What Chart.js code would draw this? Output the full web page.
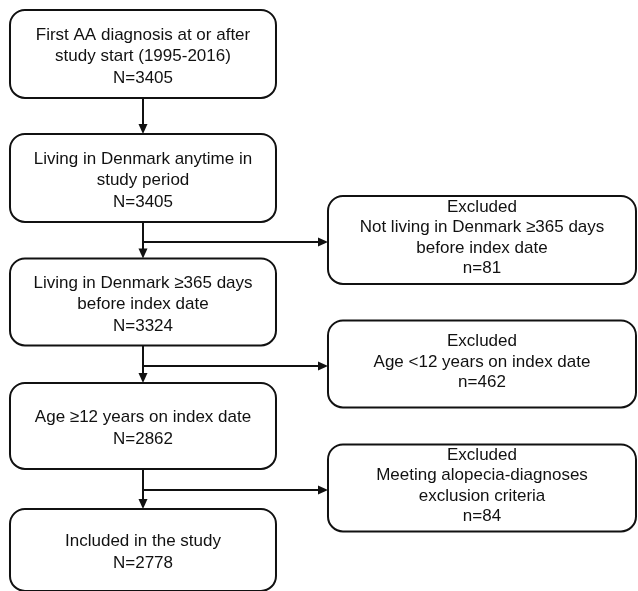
<!DOCTYPE html>
<html>
<head>
<meta charset="utf-8">
<script src="https://cdn.jsdelivr.net/npm/chart.js@4.4.1/dist/chart.umd.min.js"></script>
<style>
  html, body { margin: 0; padding: 0; background: #fff; }
  #wrap { width: 638px; height: 591px; position: relative; }
</style>
</head>
<body>
<div id="wrap"><canvas id="flow"></canvas></div>
<script>
// main cohort steps (top to bottom)
const mainSteps = [
  ['First AA diagnosis at or after', 'study start (1995-2016)'],
  ['Living in Denmark anytime in', 'study period'],
  ['Living in Denmark \u2265365 days', 'before index date'],
  ['Age \u226512 years on index date'],
  ['Included in the study']
];
const mainCounts = [3405, 3405, 3324, 2862, 2778];

// exclusions, each one sits between step k and step k+1
const excludedSteps = [
  ['Not living in Denmark \u2265365 days', 'before index date'],
  ['Age <12 years on index date'],
  ['Meeting alopecia-diagnoses', 'exclusion criteria']
];
const excludedCounts = [81, 462, 84];
const excludedAfter = [1, 2, 3];

const FONT = '17px "Liberation Sans", Arial, sans-serif';
const INK = '#111';

function roundBox(ctx, cx, cy, w, h, r) {
  const x = cx - w / 2, y = cy - h / 2;
  ctx.beginPath();
  ctx.moveTo(x + r, y);
  ctx.lineTo(x + w - r, y);
  ctx.arcTo(x + w, y, x + w, y + r, r);
  ctx.lineTo(x + w, y + h - r);
  ctx.arcTo(x + w, y + h, x + w - r, y + h, r);
  ctx.lineTo(x + r, y + h);
  ctx.arcTo(x, y + h, x, y + h - r, r);
  ctx.lineTo(x, y + r);
  ctx.arcTo(x, y, x + r, y, r);
  ctx.closePath();
  ctx.fillStyle = '#fff';
  ctx.fill();
  ctx.lineWidth = 2;
  ctx.strokeStyle = INK;
  ctx.stroke();
}

function textLines(ctx, lines, cx, cy, lh) {
  ctx.fillStyle = '#111';
  ctx.font = FONT;
  ctx.textAlign = 'center';
  ctx.textBaseline = 'middle';
  const top = cy - (lines.length - 1) * lh / 2;
  lines.forEach((l, i) => ctx.fillText(l, cx, top + i * lh));
}

function arrowHead(ctx, x, y, dir) {
  ctx.beginPath();
  if (dir === 'down') {
    ctx.moveTo(x, y);
    ctx.lineTo(x - 4.5, y - 10);
    ctx.lineTo(x + 4.5, y - 10);
  } else {
    ctx.moveTo(x, y);
    ctx.lineTo(x - 10, y - 4.5);
    ctx.lineTo(x - 10, y + 4.5);
  }
  ctx.closePath();
  ctx.fillStyle = INK;
  ctx.fill();
}

const flowPlugin = {
  id: 'flow',
  afterDatasetsDraw(chart) {
    const ctx = chart.ctx;
    const mainPts = chart.getDatasetMeta(0).data;
    const exPts = chart.getDatasetMeta(1).data;
    const mainW = 266, mainH = [88, 88, 87, 86, 82];
    const exW = 308, exH = 88;

    ctx.save();
    ctx.lineWidth = 2;
    ctx.strokeStyle = INK;

    // vertical arrows between main boxes
    for (let i = 0; i < mainPts.length - 1; i++) {
      const a = mainPts[i], b = mainPts[i + 1];
      const y0 = a.y + mainH[i] / 2, y1 = b.y - mainH[i + 1] / 2;
      ctx.beginPath();
      ctx.moveTo(a.x, y0);
      ctx.lineTo(a.x, y1 - 8);
      ctx.stroke();
      arrowHead(ctx, a.x, y1, 'down');
    }

    // branch arrows to exclusion boxes
    exPts.forEach((p, j) => {
      const from = mainPts[excludedAfter[j]];
      const by = p.y + 2;
      const x1 = p.x - exW / 2;
      ctx.beginPath();
      ctx.moveTo(from.x, by);
      ctx.lineTo(x1 - 8, by);
      ctx.stroke();
      arrowHead(ctx, x1, by, 'right');
    });

    mainPts.forEach((p, i) => {
      roundBox(ctx, p.x, p.y, mainW, mainH[i], 15);
      textLines(ctx, mainSteps[i].concat('N=' + mainCounts[i]), p.x, p.y + 2.5, 21.5);
    });

    exPts.forEach((p, j) => {
      roundBox(ctx, p.x, p.y, exW, exH - (j ? 1 : 0), 15);
      textLines(ctx, ['Excluded'].concat(excludedSteps[j], 'n=' + excludedCounts[j]), p.x, p.y - 2, 20.5);
    });
    ctx.restore();
  }
};

new Chart(document.getElementById('flow'), {
  type: 'scatter',
  data: {
    datasets: [
      {
        label: 'cohort',
        data: mainCounts.map((n, i) => ({ x: 0, y: i, n })),
        pointRadius: 0
      },
      {
        label: 'excluded',
        data: excludedCounts.map((n, j) => ({ x: 1, y: excludedAfter[j] + 0.5, n })),
        pointRadius: 0
      }
    ]
  },
  options: {
    responsive: true,
    maintainAspectRatio: false,
    animation: false,
    layout: { padding: 0 },
    plugins: { legend: { display: false }, tooltip: { enabled: false } },
    scales: {
      x: { type: 'linear', min: -0.4218, max: 1.4602, display: false },
      y: { type: 'linear', min: -0.435, max: 4.331, reverse: true, display: false }
    }
  },
  plugins: [flowPlugin]
});
</script>
</body>
</html>
